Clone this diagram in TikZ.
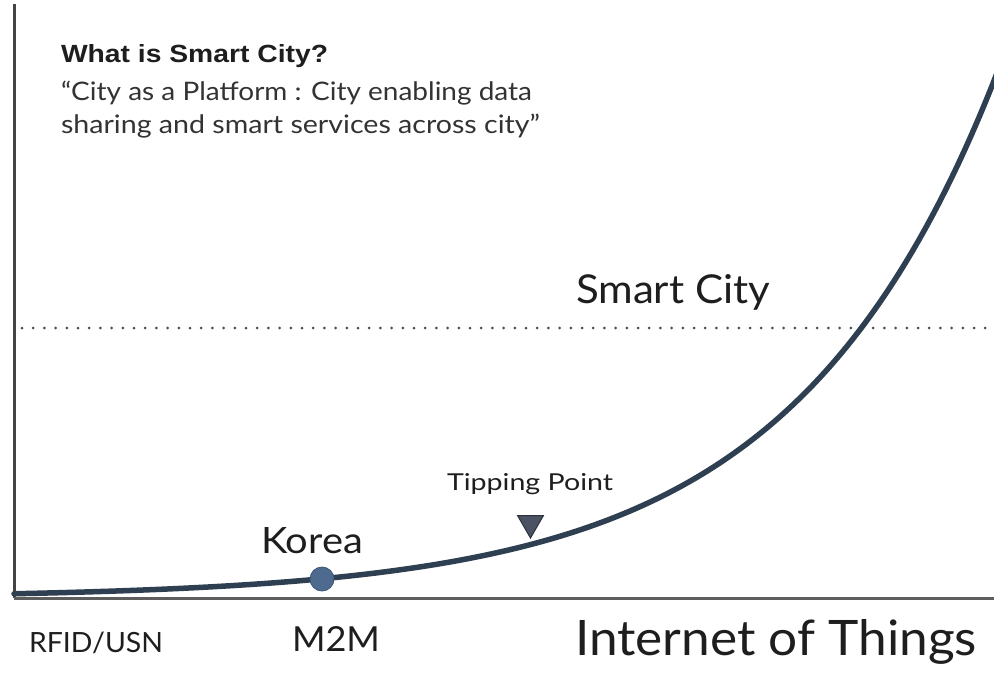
\documentclass[tikz,border=0pt]{standalone}
\usepackage{fontspec}
\setmainfont{Lato}
\newfontfamily\arialfont{Liberation Sans}
\usetikzlibrary{shapes.geometric}
\definecolor{curvecol}{HTML}{2E3F52}
\definecolor{dotcol}{HTML}{4E6A8F}
\definecolor{dotedge}{HTML}{3E5576}
\definecolor{tricol}{HTML}{4A5264}
\definecolor{triedge}{HTML}{2B303B}
\definecolor{axiscol}{HTML}{444444}
\definecolor{haxiscol}{HTML}{5E5E5E}
\definecolor{dotlinecol}{HTML}{4A4E56}
\definecolor{txtcol}{HTML}{1E1E1E}
\definecolor{quotecol}{HTML}{333333}
\newcommand{\fitlabel}[3]{\resizebox{#1pt}{#2pt}{#3}}
\begin{document}
\begin{tikzpicture}[x=1pt,y=-1pt,
  lbl/.style={anchor=base west, inner sep=0pt, outer sep=0pt, text=txtcol},
  qlbl/.style={lbl, text=quotecol},
  axisline/.style={line width=3pt},
  growth/.style={curvecol, line width=5.5pt, line cap=round},
  guide/.style={dotlinecol, line width=3pt, line cap=round, dash pattern=on 0pt off 11.2pt},
  marker/.style={circle, fill=dotcol, draw=dotedge, line width=0.8pt, minimum size=24pt, inner sep=0pt},
  tipmark/.style={regular polygon, regular polygon sides=3, rotate=180, fill=tricol, draw=triedge, line width=1pt, minimum size=30pt, inner sep=0pt}]
\useasboundingbox[fill=white] (0,0) rectangle (994,675);

% axes
\coordinate (ytop) at (14,4);
\coordinate (origin) at (14,598);
\coordinate (xend) at (994,598);
\draw[axisline, axiscol] (ytop) -- (origin);
\draw[axisline, haxiscol] (origin) -- (xend);

% smart city level
\coordinate (dl) at (22,328);
\coordinate (dr) at (994,328);
\draw[guide] (dl) -- (dr);

% growth curve
\draw[growth] plot[domain=14:998, samples=150, variable=\t]
  ({\t}, {598-200*exp(0.0049*(\t-800))});

% markers
\node[marker] (korea dot) at (322,579) {};
\node[tipmark] (tip) at (530.5,523) {};

% texts
\node[lbl] (title) at (61,62) {\fitlabel{267}{18}{\arialfont\bfseries What is Smart City?}};
\node[qlbl] (quote1) at (61,100) {\fitlabel{471}{19.5}{“City as a Platform : City enabling data}};
\node[qlbl] (quote2) at (61,133) {\fitlabel{479}{19.5}{sharing and smart services across city”}};
\node[lbl] (smartcity) at (576,303) {\fitlabel{194}{29}{Smart City}};
\node[lbl] (tipping) at (447,490) {\fitlabel{166}{17}{Tipping Point}};
\node[lbl] (korea) at (261,553) {\fitlabel{102}{26}{Korea}};
\node[lbl] (rfid) at (29,652) {\fitlabel{134}{20.5}{RFID/USN}};
\node[lbl] (m2m) at (292,651) {\fitlabel{88}{25}{M2M}};
\node[lbl] (iot) at (575,655) {\fitlabel{402}{36}{Internet of Things}};
\end{tikzpicture}
\end{document}
